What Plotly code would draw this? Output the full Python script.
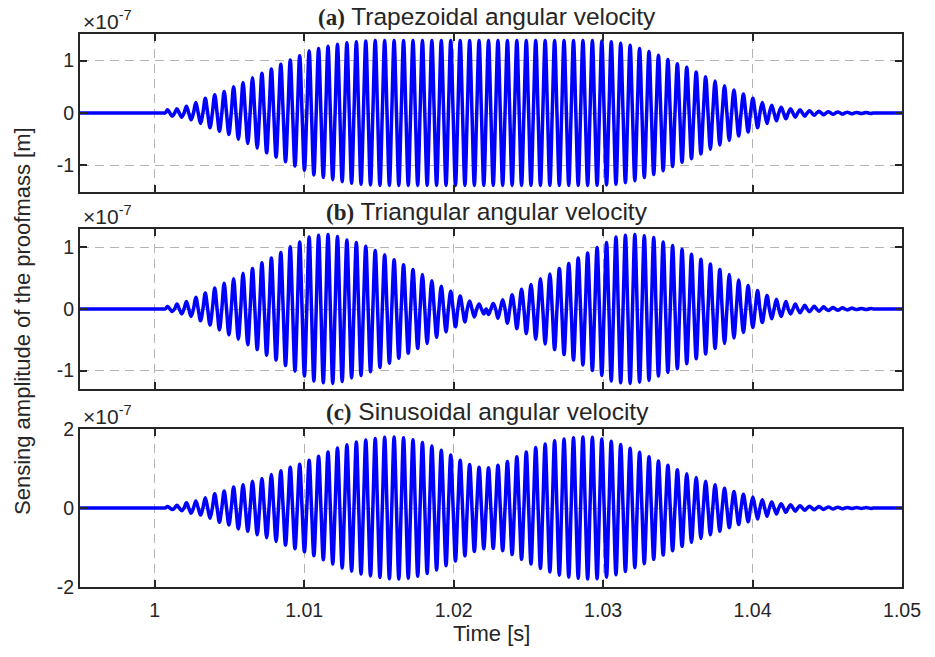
import plotly.graph_objects as go

# ---------------- data (amplitudes in units of 1e-7 m, one value per cycle) ----------------
T_START = 0.995
T_END = 1.05
T_FIRST_PEAK = 1.000856   # time of the first visible oscillation peak [s]
PERIOD = 0.0006317        # oscillation period [s]

amp_a = [0.06, 0.08, 0.13, 0.20, 0.28, 0.35, 0.41, 0.50, 0.58, 0.67, 0.76, 0.84, 0.93, 1.01,
         1.09, 1.18, 1.23, 1.27, 1.31, 1.34, 1.36, 1.37, 1.38, 1.38, 1.38, 1.38, 1.38, 1.38,
         1.38, 1.38, 1.38, 1.38, 1.38, 1.38, 1.38, 1.38, 1.38, 1.38, 1.38, 1.38, 1.38, 1.38,
         1.38, 1.38, 1.38, 1.38, 1.37, 1.36, 1.33, 1.29, 1.23, 1.17, 1.10, 1.02, 0.94, 0.87,
         0.78, 0.69, 0.61, 0.52, 0.44, 0.36, 0.28, 0.20, 0.15, 0.11, 0.08, 0.06, 0.045, 0.035,
         0.025, 0.02, 0.015, 0.01, 0.01]

amp_b = [0.04, 0.08, 0.12, 0.19, 0.26, 0.34, 0.42, 0.49, 0.58, 0.66, 0.75, 0.83, 0.92, 1.01,
         1.09, 1.17, 1.20, 1.21, 1.18, 1.12, 1.08, 1.02, 0.95, 0.88, 0.80, 0.72, 0.64, 0.56,
         0.46, 0.37, 0.29, 0.21, 0.13, 0.08, -0.09, -0.15, -0.23, -0.32, -0.40, -0.49, -0.57,
         -0.66, -0.74, -0.83, -0.91, -1.00, -1.08, -1.17, -1.20, -1.21, -1.19, -1.16, -1.09,
         -1.03, -0.97, -0.89, -0.81, -0.73, -0.64, -0.56, -0.47, -0.38, -0.30, -0.22, -0.16,
         -0.12, -0.08, -0.06, -0.045, -0.035, -0.025, -0.02, -0.015, -0.01, -0.01]

amp_c = [0.04, 0.07, 0.13, 0.18, 0.26, 0.36, 0.43, 0.53, 0.59, 0.68, 0.75, 0.85, 0.94, 1.03,
         1.11, 1.21, 1.31, 1.42, 1.52, 1.60, 1.67, 1.72, 1.76, 1.79, 1.80, 1.78, 1.73, 1.66,
         1.57, 1.46, 1.34, 1.21, 1.10, 1.03, 1.02, 1.08, 1.18, 1.30, 1.42, 1.53, 1.62, 1.70,
         1.75, 1.78, 1.80, 1.79, 1.75, 1.69, 1.61, 1.51, 1.41, 1.30, 1.19, 1.08, 0.97, 0.87,
         0.77, 0.68, 0.59, 0.50, 0.42, 0.35, 0.28, 0.21, 0.15, 0.11, 0.08, 0.06, 0.045, 0.035,
         0.025, 0.02, 0.015, 0.01, 0.01]

panel_tags = ["(a)", "(b)", "(c)"]
panel_titles = ["Trapezoidal angular velocity", "Triangular angular velocity",
                "Sinusoidal angular velocity"]
y_ranges = [[-1.5, 1.5], [-1.3, 1.3], [-2, 2]]
y_ticks = [[-1, 0, 1], [-1, 0, 1], [-2, 0, 2]]
x_ticks = [1, 1.01, 1.02, 1.03, 1.04, 1.05]
x_tick_labels = ["1", "1.01", "1.02", "1.03", "1.04", "1.05"]

# ---------------- layout geometry (pixels) ----------------
W, H = 935, 657
ML, MR, MT, MB = 80, 33, 34, 70
PH = H - MT - MB
PW = W - ML - MR
panel_px = [(34.3, 191.7), (229, 389), (429, 587)]


def py(ypx):
    return (H - MB - ypx) / PH


def px(xpx):
    return (xpx - ML) / PW


def waveform(amps):
    # flat lead-in with a few evenly spaced zero points so the spline stays flat
    xs = [T_START] + [T_FIRST_PEAK - PERIOD * m / 4 for m in (6, 5, 4, 3, 2)]
    ys = [0.0] * len(xs)
    for k, a in enumerate(amps):
        tp = T_FIRST_PEAK + k * PERIOD
        xs += [tp - PERIOD / 4, tp, tp + PERIOD / 4, tp + PERIOD / 2]
        ys += [0.0, a, 0.0, -a]
    last = xs[-1]
    xs += [last + PERIOD * m / 4 for m in (1, 2, 3, 4, 5)] + [T_END]
    ys += [0.0] * 6
    return xs, ys


FONT = "Liberation Sans, Arial, Helvetica, sans-serif"
TXT = "#262626"
fig = go.Figure()

for i, amps in enumerate([amp_a, amp_b, amp_c]):
    xs, ys = waveform(amps)
    n = "" if i == 0 else str(i + 1)
    fig.add_trace(go.Scatter(x=xs, y=ys, mode="lines", xaxis="x" + n, yaxis="y" + n,
                             line=dict(color="#0000ff", width=3.5, shape="spline", smoothing=1),
                             showlegend=False, hoverinfo="skip"))
    top, bot = panel_px[i]
    common = dict(showline=True, linewidth=1.8, linecolor=TXT, mirror="allticks",
                  ticks="inside", ticklen=7, tickwidth=1.5, tickcolor=TXT,
                  showgrid=True, gridcolor="#b4b4b4", gridwidth=1, griddash="9px,6px",
                  zeroline=False, tickfont=dict(family=FONT, size=19.5, color=TXT))
    fig.layout["xaxis" + n] = dict(domain=[0, 1], range=[T_START, T_END], anchor="y" + n,
                                   tickvals=x_ticks, ticktext=x_tick_labels,
                                   showticklabels=(i == 2), ticklabelstandoff=5, **common)
    fig.layout["yaxis" + n] = dict(domain=[py(bot), py(top)], range=y_ranges[i],
                                   anchor="x" + n, tickvals=y_ticks[i],
                                   ticktext=[str(v) for v in y_ticks[i]], **common)
    # panel title
    fig.add_annotation(
        text=('<span style="font-family:Liberation Serif,Times New Roman,serif;font-size:23px"><b>'
              + panel_tags[i] + '</b></span> ' + panel_titles[i]),
        x=px(487), y=py(top - 17.5), xref="paper", yref="paper", xanchor="center",
        yanchor="middle", showarrow=False, font=dict(family=FONT, size=24.5, color=TXT))
    # exponent label
    fig.add_annotation(text="×10<sup>-7</sup>", x=px(81), y=py(top + 1), xref="paper",
                       yref="paper", xanchor="left", yanchor="bottom", showarrow=False,
                       font=dict(family=FONT, size=21, color=TXT))

fig.add_annotation(text="Sensing amplitude of the proofmass [m]", textangle=-90,
                   x=px(22), y=py(321), xref="paper", yref="paper", xanchor="center",
                   yanchor="middle", showarrow=False, font=dict(family=FONT, size=22, color=TXT))
fig.add_annotation(text="Time [s]", x=0.5, y=py(633), xref="paper", yref="paper",
                   xanchor="center", yanchor="middle", showarrow=False,
                   font=dict(family=FONT, size=22, color=TXT))

fig.update_layout(width=W, height=H, margin=dict(l=ML, r=MR, t=MT, b=MB),
                  plot_bgcolor="white", paper_bgcolor="white")
fig.write_html("out.html")
